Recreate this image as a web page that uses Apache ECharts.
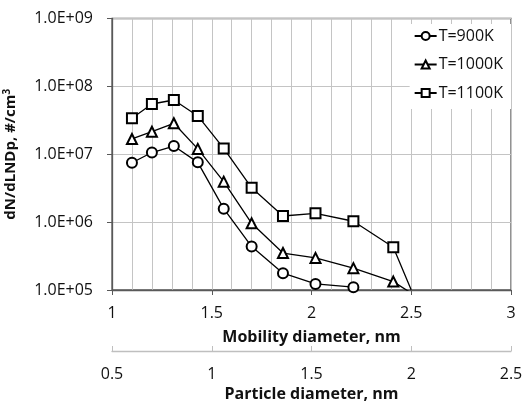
<!DOCTYPE html>
<html>
<head>
<meta charset="utf-8">
<script src="https://cdn.jsdelivr.net/npm/echarts@6/dist/echarts.min.js"></script>
<style>
  html, body { margin: 0; padding: 0; background: #fff; }
  #chart { width: 525px; height: 402px; }
</style>
</head>
<body>
<div id="chart"></div>
<script>
// mobility diameter (nm) of each measured size bin
var mobilityDiam = [1.10, 1.20, 1.31, 1.43, 1.56, 1.70, 1.857, 2.02, 2.21, 2.41, 2.50];
// dN/dLNDp, #/cm3
var n900  = [7.5e6, 1.06e7, 1.32e7, 7.6e6, 1.58e6, 4.36e5, 1.77e5, 1.23e5, 1.1e5];
var n1000 = [1.68e7, 2.15e7, 2.86e7, 1.2e7, 3.95e6, 9.6e5, 3.5e5, 2.97e5, 2.1e5, 1.33e5, 9e4];
var n1100 = [3.4e7, 5.5e7, 6.3e7, 3.67e7, 1.22e7, 3.2e6, 1.23e6, 1.35e6, 1.03e6, 4.27e5, 1e5];
var seriesNames = ['T=900K', 'T=1000K', 'T=1100K'];
var yTickLabels = ['1.0E+05', '1.0E+06', '1.0E+07', '1.0E+08', '1.0E+09'];

var font = 'Open Sans';

// pair up x/y, last point at 2.5 drawn without a marker (it falls off the axis)
function pts(vals) {
    var out = [];
    for (var i = 0; i < vals.length; i++) {
        var item = { value: [mobilityDiam[i], vals[i]] };
        if (mobilityDiam[i] >= 2.5) item.symbol = 'none';
        out.push(item);
    }
    return out;
}

function mkSeries(name, vals, symbol) {
    return {
        name: name,
        type: 'line',
        data: pts(vals),
        symbol: symbol,
        symbolSize: 10,
        showAllSymbol: true,
        clip: true,
        lineStyle: { color: '#000', width: 1.3 },
        itemStyle: { color: '#000', borderWidth: 1.6 },
        emphasis: { disabled: true },
        animation: false
    };
}

var myChart = echarts.init(document.getElementById('chart'));
var option = {
    animation: false,
    textStyle: { fontFamily: font },
    grid: {
        left: 112, right: 14, top: 18.5, bottom: 112,
        outerBoundsMode: 'none',
        containLabel: false,
        show: true, borderColor: '#595959', borderWidth: 1.3
    },
    legend: {
        data: seriesNames,
        orient: 'vertical',
        right: 14,
        top: 24,
        itemGap: 12.5,
        itemWidth: 22,
        itemHeight: 10,
        backgroundColor: '#fff',
        padding: [4, 8, 8, 4],
        textStyle: { fontFamily: font, fontSize: 16, color: '#111', padding: [0, 0, 0, -3] }
    },
    xAxis: [{
        type: 'value',
        min: 1, max: 3, interval: 0.5,
        position: 'bottom',
        name: 'Mobility diameter, nm',
        nameLocation: 'middle',
        nameGap: 39,
        nameTextStyle: { fontFamily: font, fontSize: 16, fontWeight: 'bold', color: '#111' },
        axisLine: { show: true, onZero: false, lineStyle: { color: '#595959', width: 1.3 } },
        axisTick: { show: true, inside: false, length: 5, lineStyle: { color: '#595959' } },
        axisLabel: { fontFamily: font, fontSize: 16, color: '#111', margin: 15 },
        splitLine: { show: true, lineStyle: { color: '#c4c4c4', width: 1 } },
        minorTick: { show: false, splitNumber: 5 },
        minorSplitLine: { show: true, lineStyle: { color: '#c4c4c4', width: 1 } }
    }, {
        type: 'value',
        min: 0.5, max: 2.5, interval: 0.5,
        position: 'bottom',
        offset: 61,
        name: 'Particle diameter, nm',
        nameLocation: 'middle',
        nameGap: 35,
        nameTextStyle: { fontFamily: font, fontSize: 16, fontWeight: 'bold', color: '#111' },
        axisLine: { show: true, onZero: false, lineStyle: { color: '#bfbfbf', width: 1.3 } },
        axisTick: { show: true, inside: true, length: 5, lineStyle: { color: '#bfbfbf' } },
        axisLabel: { fontFamily: font, fontSize: 16, color: '#111', margin: 15 },
        splitLine: { show: false }
    }],
    yAxis: {
        type: 'log',
        logBase: 10,
        min: 1e5, max: 1e9,
        name: 'dN/dLNDp, #/cm{sup|3}',
        nameLocation: 'middle',
        nameGap: 92,
        nameTextStyle: {
            fontFamily: font, fontSize: 15, fontWeight: 'bold', color: '#111',
            rich: { sup: { fontFamily: font, fontSize: 10, fontWeight: 'bold', verticalAlign: 'top', padding: [0, 0, 8, 0] } }
        },
        axisLine: { show: true, lineStyle: { color: '#595959', width: 1.3 } },
        axisTick: { show: true, length: 5, lineStyle: { color: '#595959' } },
        axisLabel: {
            fontFamily: font, fontSize: 16, color: '#111', margin: 19,
            formatter: function (v) {
                var e = Math.round(Math.log10(v));
                return yTickLabels[e - 5];
            }
        },
        splitLine: { show: true, lineStyle: { color: '#c4c4c4', width: 1 } }
    },
    series: [
        mkSeries(seriesNames[0], n900, 'emptyCircle'),
        mkSeries(seriesNames[1], n1000, 'emptyTriangle'),
        mkSeries(seriesNames[2], n1100, 'emptyRect')
    ]
};
myChart.setOption(option);
</script>
</body>
</html>
